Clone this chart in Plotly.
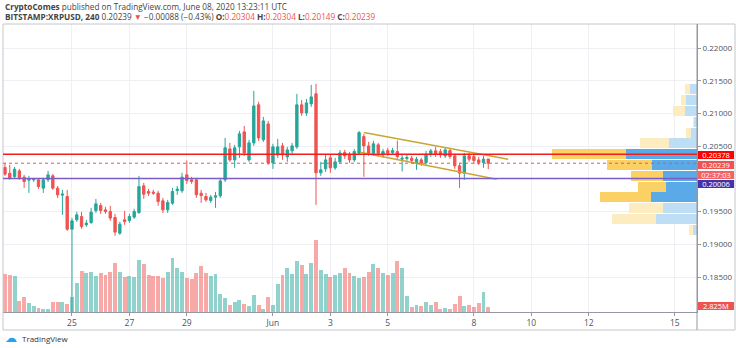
import pandas as pd
import plotly.graph_objects as go

# ---------------- data ----------------
first_bar = "2020-05-22 16:00"
opens = [0.20173, 0.20087, 0.20035, 0.20122, 0.20026, 0.19980, 0.19985, 0.19985, 0.19858, 0.19985,
         0.20046, 0.19858, 0.19751, 0.19730, 0.19231, 0.19374, 0.19424, 0.19297, 0.19332, 0.19516,
         0.19592, 0.19526, 0.19500, 0.19409, 0.19170, 0.19374, 0.19363, 0.19415, 0.19485, 0.19893,
         0.19806, 0.19797, 0.19781, 0.19664, 0.19526, 0.19629, 0.19821, 0.19817, 0.20061, 0.19985,
         0.19985, 0.19781, 0.19730, 0.19668, 0.19720, 0.19740, 0.19985, 0.20458, 0.20290, 0.20489,
         0.20718, 0.20290, 0.20550, 0.21131, 0.20596, 0.20840, 0.20244, 0.20367, 0.20504, 0.20336,
         0.20428, 0.20489, 0.21131, 0.21008, 0.21146, 0.21299, 0.20092, 0.20153, 0.20321, 0.20168,
         0.20260, 0.20402, 0.20367, 0.20290, 0.20393, 0.20646, 0.20504, 0.20393, 0.20520, 0.20367,
         0.20432, 0.20402, 0.20417, 0.20301, 0.20310, 0.20316, 0.20249, 0.20290, 0.20249, 0.20377,
         0.20428, 0.20417, 0.20351, 0.20432, 0.20351, 0.20199, 0.20087, 0.20351, 0.20341, 0.20290,
         0.20249, 0.20304]
highs = [0.20244, 0.20214, 0.20183, 0.20153, 0.20061, 0.20046, 0.20015, 0.20015, 0.20015, 0.20122,
         0.20076, 0.19893, 0.19832, 0.19832, 0.19404, 0.19496, 0.19496, 0.19374, 0.19557, 0.19694,
         0.19633, 0.19572, 0.19587, 0.19465, 0.19343, 0.19511, 0.19465, 0.19542, 0.20046, 0.19939,
         0.19847, 0.19832, 0.19817, 0.19710, 0.19679, 0.19862, 0.19893, 0.20092, 0.20280, 0.20031,
         0.20015, 0.19832, 0.19786, 0.19756, 0.19801, 0.20015, 0.20626, 0.20550, 0.20520, 0.20733,
         0.20810, 0.20596, 0.21345, 0.21177, 0.20947, 0.20886, 0.20535, 0.20611, 0.20550, 0.20489,
         0.20550, 0.21299, 0.21207, 0.21222, 0.21436, 0.21452, 0.20260, 0.20367, 0.20367, 0.20321,
         0.20443, 0.20443, 0.20413, 0.20458, 0.20733, 0.20688, 0.20565, 0.20581, 0.20550, 0.20458,
         0.20474, 0.20474, 0.20585, 0.20367, 0.20367, 0.20351, 0.20336, 0.20321, 0.20428, 0.20458,
         0.20489, 0.20458, 0.20474, 0.20474, 0.20382, 0.20244, 0.20397, 0.20397, 0.20382, 0.20336,
         0.20351, 0.20304]
lows = [0.20046, 0.19985, 0.20015, 0.19985, 0.19862, 0.19786, 0.19954, 0.19847, 0.19786, 0.19954,
        0.19832, 0.19710, 0.19450, 0.19205, 0.17800, 0.19343, 0.19236, 0.19267, 0.19312, 0.19480,
        0.19465, 0.19465, 0.19358, 0.19129, 0.19144, 0.19297, 0.19328, 0.19389, 0.19465, 0.19694,
        0.19740, 0.19756, 0.19587, 0.19480, 0.19480, 0.19603, 0.19756, 0.19786, 0.19924, 0.19924,
        0.19710, 0.19633, 0.19649, 0.19633, 0.19557, 0.19710, 0.19954, 0.20260, 0.20168, 0.20321,
        0.20351, 0.20260, 0.20504, 0.20581, 0.20565, 0.20214, 0.20153, 0.20321, 0.20290, 0.20260,
        0.20367, 0.20458, 0.20963, 0.20963, 0.21100, 0.19603, 0.20046, 0.20107, 0.20092, 0.20138,
        0.20229, 0.20306, 0.20244, 0.20260, 0.20367, 0.20031, 0.20351, 0.20351, 0.20336, 0.20321,
        0.20351, 0.20367, 0.20306, 0.20112, 0.20275, 0.20244, 0.20138, 0.20199, 0.20214, 0.20336,
        0.20336, 0.20321, 0.20321, 0.20306, 0.20153, 0.19862, 0.19985, 0.20260, 0.20229, 0.20214,
        0.20168, 0.20149]
closes = [0.20072, 0.20011, 0.20148, 0.20020, 0.19959, 0.19995, 0.19996, 0.19882, 0.19985, 0.20061,
          0.19858, 0.19756, 0.19766, 0.19231, 0.19358, 0.19450, 0.19271, 0.19323, 0.19491, 0.19618,
          0.19516, 0.19500, 0.19400, 0.19186, 0.19308, 0.19348, 0.19424, 0.19500, 0.19882, 0.19766,
          0.19781, 0.19781, 0.19653, 0.19526, 0.19638, 0.19806, 0.19843, 0.20026, 0.19974, 0.19959,
          0.19756, 0.19745, 0.19679, 0.19720, 0.19740, 0.19969, 0.20474, 0.20290, 0.20474, 0.20688,
          0.20397, 0.20550, 0.21115, 0.20626, 0.20886, 0.20244, 0.20489, 0.20489, 0.20367, 0.20443,
          0.20504, 0.21131, 0.21008, 0.21161, 0.21253, 0.20092, 0.20138, 0.20290, 0.20168, 0.20260,
          0.20397, 0.20351, 0.20290, 0.20417, 0.20707, 0.20504, 0.20393, 0.20535, 0.20393, 0.20417,
          0.20393, 0.20432, 0.20341, 0.20316, 0.20325, 0.20280, 0.20301, 0.20240, 0.20377, 0.20428,
          0.20377, 0.20367, 0.20443, 0.20341, 0.20199, 0.20087, 0.20351, 0.20301, 0.20280, 0.20249,
          0.20301, 0.20239]
volumes_m = [22.8, 22.2, 21.6, 6.6, 8.8, 5.6, 3.6, 2.2, 1.8, 1.8,
             6.2, 6.2, 6.2, 4.8, 9.2, 17.2, 24.8, 23.2, 24.0, 21.8,
             23.2, 22.2, 24.2, 29.6, 24.0, 21.2, 21.8, 20.8, 31.0, 28.6,
             22.2, 21.6, 21.6, 20.6, 24.2, 32.2, 26.6, 24.2, 20.6, 19.6,
             23.2, 27.6, 23.6, 21.8, 22.8, 10.6, 8.2, 4.2, 6.2, 7.2,
             4.8, 3.8, 10.2, 4.2, 1.8, 8.8, 4.2, 16.8, 22.2, 26.2,
             22.6, 30.8, 28.2, 22.8, 29.2, 43.2, 25.2, 22.8, 21.2, 22.0,
             23.6, 26.2, 23.6, 21.6, 20.6, 21.2, 24.2, 28.6, 26.6, 23.6,
             22.2, 23.6, 30.8, 26.2, 9.6, 3.2, 4.2, 3.6, 6.2, 4.2,
             5.8, 1.8, 2.4, 2.0, 4.8, 9.6, 3.6, 4.2, 3.2, 5.2,
             12.0, 2.825]

# visible-range volume profile (rows from top to bottom)
profile_top = 0.2145
profile_row = 0.00165
profile_up = [7.5, 10.7, 12.0, 3.5, 6.3, 27.7, 71.0, 45.3, 34.3, 31.0, 46.3, 34.3, 41.0, 4.0]
profile_down = [4.3, 5.3, 12.3, 0.5, 4.7, 29.3, 74.3, 45.0, 32.0, 28.3, 50.7, 33.3, 44.3, 4.5]
value_area = [0, 0, 0, 0, 0, 0, 1, 1, 1, 1, 1, 0, 0, 0]

resistance = 0.20378
support = 0.20006
last_price = 0.20239
channel_upper = [("2020-06-04 04:00", 0.20707), ("2020-06-09 04:40", 0.20301)]
channel_lower = [("2020-06-04 01:00", 0.20408), ("2020-06-08 19:00", 0.19995)]

date_ticks = ["2020-05-25", "2020-05-27", "2020-05-29", "2020-06-01", "2020-06-03",
              "2020-06-05", "2020-06-08", "2020-06-10", "2020-06-12", "2020-06-15"]
date_labels = ["25", "27", "29", "Jun", "3", "5", "8", "10", "12", "15"]
price_ticks = [0.185, 0.19, 0.195, 0.20, 0.205, 0.21, 0.215, 0.22]
price_labels = ["0.18500", "0.19000", "0.19500", "", "0.20500", "0.21000", "0.21500", "0.22000"]

# ---------------- figure ----------------
W, H = 736, 348
L, R, T, B = 3, 39, 24, 36
PW, PH = W - L - R, H - T - B


def px(x):
    return (x - L) / PW


def py(y):
    return (H - B - y) / PH


times = pd.date_range(pd.Timestamp(first_bar), periods=len(opens), freq="4h")
bar_ms = 4 * 3600 * 1000

UP, DN = "#26a69a", "#ef5350"
vol_colors = ["rgba(38,166,154,0.5)" if c >= o else "rgba(239,83,80,0.5)" for o, c in zip(opens, closes)]

fig = go.Figure()

fig.add_trace(go.Bar(x=times, y=volumes_m, width=bar_ms * 0.82, marker_color=vol_colors,
                     marker_line_width=0, xaxis="x", yaxis="y3", showlegend=False))

fig.add_trace(go.Candlestick(
    x=times, open=opens, high=highs, low=lows, close=closes,
    increasing=dict(line=dict(color=UP, width=1), fillcolor=UP),
    decreasing=dict(line=dict(color=DN, width=1), fillcolor=DN),
    whiskerwidth=0, showlegend=False, xaxis="x", yaxis="y"))

mids = [profile_top - profile_row * (i + 0.5) for i in range(len(profile_up))]
blue = ["rgb(91,170,232)" if v else "rgb(190,222,246)" for v in value_area]
yellow = ["rgb(251,208,100)" if v else "rgb(253,236,192)" for v in value_area]
fig.add_trace(go.Bar(y=mids, x=profile_up, base=[0] * len(mids), orientation="h",
                     width=profile_row * 0.92, marker_color=blue, marker_line_width=0,
                     xaxis="x2", yaxis="y", showlegend=False))
fig.add_trace(go.Bar(y=mids, x=profile_down, base=profile_up, orientation="h",
                     width=profile_row * 0.92, marker_color=yellow, marker_line_width=0,
                     xaxis="x2", yaxis="y", showlegend=False))

x_start = pd.Timestamp(first_bar) - pd.Timedelta(minutes=100)
x_end = pd.Timestamp(first_bar) + pd.Timedelta(hours=578.5)

GRID = "#eef0f4"
AX = "#9598a1"
TXT = "#50535e"
FONT = "Open Sans"

fig.update_layout(
    width=W, height=H, margin=dict(l=L, r=R, t=T, b=B),
    paper_bgcolor="white", plot_bgcolor="white",
    font=dict(family=FONT, size=9, color=TXT),
    barmode="overlay", bargap=0,
    xaxis=dict(type="date", range=[x_start, x_end], rangeslider=dict(visible=False),
               tickvals=pd.to_datetime(date_ticks), ticktext=date_labels,
               showgrid=True, gridcolor=GRID, gridwidth=1, zeroline=False,
               ticks="outside", ticklen=3, tickcolor=AX, showline=True, linecolor=AX,
               tickfont=dict(size=8.5, color=TXT), fixedrange=True),
    xaxis2=dict(overlaying="x", range=[PW, 0], visible=False, anchor="y", fixedrange=True),
    yaxis=dict(side="right", range=[0.17965, 0.22367], tickvals=price_ticks, ticktext=price_labels,
               showgrid=True, gridcolor=GRID, zeroline=False, ticks="outside", ticklen=3,
               tickcolor=AX, showline=True, linecolor=AX, tickfont=dict(size=8, color=TXT),
               fixedrange=True),
    yaxis3=dict(overlaying="y", range=[0, PH * 0.6], visible=False, fixedrange=True),
)

shapes = []
# frame
shapes.append(dict(type="rect", xref="paper", yref="paper", x0=0, x1=px(735), y0=py(330), y1=1,
                   line=dict(color="#c3c6cc", width=1)))
shapes.append(dict(type="line", xref="paper", yref="paper", x0=1, x1=1, y0=py(330), y1=1,
                   line=dict(color=AX, width=1)))
# channel
for seg in (channel_upper, channel_lower):
    shapes.append(dict(type="line", xref="x", yref="y", x0=seg[0][0], y0=seg[0][1],
                       x1=seg[1][0], y1=seg[1][1], line=dict(color="#c9a634", width=1.5)))
shapes.append(dict(type="line", xref="paper", yref="y", x0=0, x1=1, y0=last_price, y1=last_price,
                   line=dict(color=DN, width=1, dash="dot")))
shapes.append(dict(type="line", xref="paper", yref="y", x0=0, x1=1, y0=resistance, y1=resistance,
                   line=dict(color="#f21c1c", width=1.5)))
shapes.append(dict(type="line", xref="paper", yref="y", x0=0, x1=1, y0=support, y1=support,
                   line=dict(color="#7c5cc4", width=1.5)))
fig.update_layout(shapes=shapes)

ann = []


def label(text, y, bg, yref="y", yshift=0):
    ann.append(dict(x=1, xref="paper", y=y, yref=yref, xanchor="left", yanchor="middle",
                    text=text, showarrow=False, bgcolor=bg, width=35, height=7, borderpad=0.5,
                    borderwidth=0, align="center", yshift=yshift, xshift=1,
                    font=dict(family=FONT, size=7.5, color="white")))


label(f"{resistance:.5f}", resistance, "#ff0000", yshift=-1)
label(f"{last_price:.5f}", last_price, "#ef5350", yshift=-2)
label("02:37:03", last_price, "#f26361", yshift=-12)
label(f"{support:.5f}", support, "#4433a8", yshift=-6)
label(f"{volumes_m[-1]:.3f}M", volumes_m[-1], "#ef5350", yref="y3", yshift=1)

red = "#ef5350"
HF = 8.2
ann.append(dict(x=px(3), y=py(6), xref="paper", yref="paper", xanchor="left", yanchor="middle",
                showarrow=False, align="left",
                text="<b>CryptoComes</b> published on TradingView.com, June 08, 2020 13:23:11 UTC",
                font=dict(family=FONT, size=HF, color="#444")))
line2 = (f"<b>BITSTAMP:XRPUSD, 240</b> {closes[-1]:.5f} <span style='color:{red}'>▼</span> "
         f"−0.00088 (−0.43%) "
         f"<b>O:</b><span style='color:{red}'>{opens[-1]:.5f}</span> "
         f"<b>H:</b><span style='color:{red}'>{highs[-1]:.5f}</span> "
         f"<b>L:</b><span style='color:{red}'>{lows[-1]:.5f}</span> "
         f"<b>C:</b><span style='color:{red}'>{closes[-1]:.5f}</span>")
ann.append(dict(x=px(3), y=py(17), xref="paper", yref="paper", xanchor="left", yanchor="middle",
                showarrow=False, align="left", text=line2,
                font=dict(family=FONT, size=HF, color="#444")))
ann.append(dict(x=px(3), y=py(338), xref="paper", yref="paper", xanchor="left", yanchor="middle",
                showarrow=False, text="<span style='color:#2a9df4'>☁</span>",
                font=dict(family="DejaVu Sans", size=12)))
ann.append(dict(x=px(20), y=py(338), xref="paper", yref="paper", xanchor="left", yanchor="middle",
                showarrow=False, text="TradingView", font=dict(family=FONT, size=8, color="#333")))
fig.update_layout(annotations=ann)

fig.write_html("out.html")
